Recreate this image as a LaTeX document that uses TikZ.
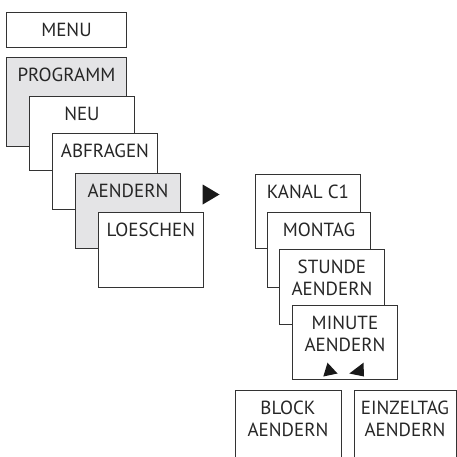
\documentclass[tikz,border=0pt]{standalone}
\usepackage{fontspec}
\setmainfont{PT Sans}
\begin{document}
\begin{tikzpicture}[x=1pt,y=-1pt,
  box/.style={draw=black!80, line width=0.9pt, fill=white, rectangle, inner sep=0pt, anchor=north west},
  gbox/.style={box, fill={rgb,255:red,228;green,228;blue,230}},
  txt/.style={anchor=north, inner sep=0pt, align=center, text=black!85, font=\fontsize{19}{22}\selectfont},
  tri/.style={fill=black!90, draw=none}]
\useasboundingbox (0,0) rectangle (457,457);
\newcommand{\mybox}[7]{% style, name, x1,y1,x2,y2, text
  \node[#1, minimum width={(#5-#3)*1pt}, minimum height={(#6-#4)*1pt}] (#2) at (#3,#4) {};
  \node[txt] (#2t) at ([yshift=-10.5pt]#2.north) {#7};}
\mybox{box}{menu}{6}{12}{126}{47}{MENU}
\mybox{gbox}{prog}{6}{57}{126}{146}{PROGRAMM}
\mybox{box}{neu}{29}{96}{134}{170}{NEU}
\mybox{box}{abfr}{52}{133}{157}{209}{ABFRAGEN}
\mybox{gbox}{aend}{75}{173}{180}{248}{AENDERN}
\mybox{box}{loes}{98}{212}{203}{287}{LOESCHEN}
\mybox{box}{kanal}{255}{174}{360}{248}{KANAL C1}
\mybox{box}{montag}{267}{212}{370}{287}{MONTAG}
\mybox{box}{stunde}{279}{249}{384}{324}{STUNDE\\AENDERN}
\mybox{box}{minute}{292}{305}{397}{379}{MINUTE\\AENDERN}
% open-bottom boxes
\draw[draw=black!80, line width=0.9pt] (235,458) -- (235,390) -- (341,390) -- (341,458);
\coordinate (block) at (288,390);
\node[txt] (blockt) at ([yshift=-11pt]block) {BLOCK\\AENDERN};
\draw[draw=black!80, line width=0.9pt] (354,458) -- (354,390) -- (456,390) -- (456,458);
\coordinate (einzel) at (405,390);
\node[txt] (einzelt) at ([yshift=-11pt]einzel) {EINZELTAG\\AENDERN};
% triangles
\fill[tri] (202.7,184.5) -- (219.5,194.5) -- (202.7,204.5) -- cycle;
\fill[tri] (323.3,376.5) -- (327.5,362.7) -- (337.5,373.5) -- cycle;
\fill[tri] (349.3,373.5) -- (363.5,362.7) -- (364,376.5) -- cycle;
\end{tikzpicture}
\end{document}
